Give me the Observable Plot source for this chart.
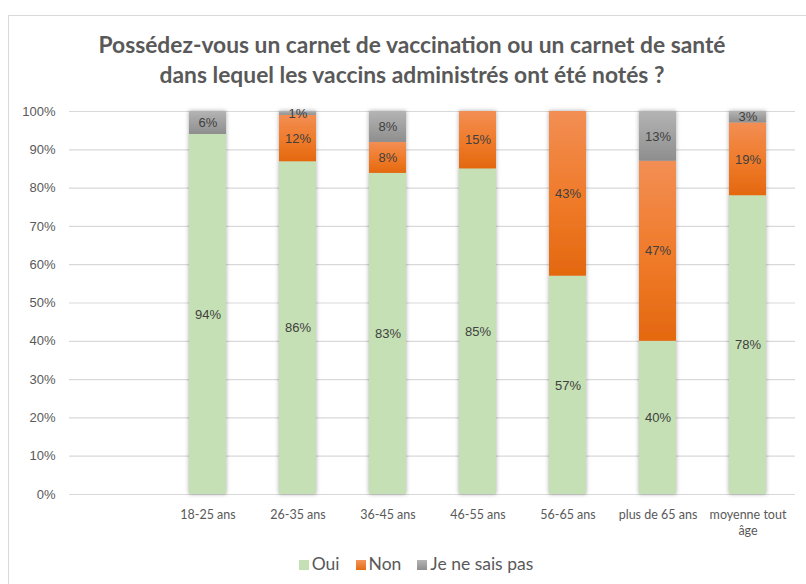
<!DOCTYPE html>
<html>
<head>
<meta charset="utf-8">
<script src="https://cdn.jsdelivr.net/npm/d3@7"></script>
<script src="https://cdn.jsdelivr.net/npm/@observablehq/plot@0.6"></script>
<style>
  html, body { margin: 0; padding: 0; background: #fff; }
  #wrap { position: relative; width: 806px; height: 584px; overflow: hidden; background: #fff; }
  #frame { position: absolute; left: 8px; top: 15px; width: 820px; height: 600px; border: 1px solid #d9d9d9; box-sizing: border-box; }
  #title { position: absolute; left: 0; top: 29px; width: 824px; text-align: center; font-family: Lato, sans-serif; font-weight: 700; font-size: 22.8px; line-height: 30px; color: #595959; }
  #chart { position: absolute; left: 0; top: 100px; }
  #legend { position: absolute; left: 0; top: 553px; width: 832px; text-align: center; font-family: Lato, sans-serif; font-size: 17.5px; color: #595959; }
  #legend span.item { display: inline-block; margin: 0 8px; }
  #legend span.sw { display: inline-block; width: 10px; height: 10px; margin-right: 3px; vertical-align: 0px; }
  g[aria-label="x-axis tick label"] text { font-family: Lato, sans-serif; }
</style>
</head>
<body>
<div id="wrap">
  <div id="frame"></div>
  <div id="title">Possédez-vous un carnet de vaccination ou un carnet de santé<br>dans lequel les vaccins administrés ont été notés ?</div>
  <div id="chart"></div>
  <div id="legend"></div>
</div>
<script>
// Categories (first slot is empty in the original chart)
const categories = ["", "18-25 ans", "26-35 ans", "36-45 ans", "46-55 ans", "56-65 ans", "plus de 65 ans", "moyenne tout âge"];
const groups = ["18-25 ans", "26-35 ans", "36-45 ans", "46-55 ans", "56-65 ans", "plus de 65 ans", "moyenne tout âge"];
const series = ["Oui", "Non", "Je ne sais pas"];
const oui = [94, 86, 83, 85, 57, 40, 78];
const non = [0, 12, 8, 15, 43, 47, 19];
const nsp = [6, 1, 8, 0, 0, 13, 3];
const yTicks = [0, 0.1, 0.2, 0.3, 0.4, 0.5, 0.6, 0.7, 0.8, 0.9, 1];
const seriesColors = ["#c5e0b4", "url(#gOrange)", "url(#gGray)"];
const legendColors = ["#c5e0b4", "linear-gradient(#f4945a, #e36c14)", "linear-gradient(#b4b4b4, #8e8e8e)"];

const values = [oui, non, nsp];
const data = [];
groups.forEach((g, i) => {
  series.forEach((s, j) => {
    if (values[j][i] > 0) data.push({group: g, series: s, value: values[j][i]});
  });
});

const plot = Plot.plot({
  width: 806,
  height: 440,
  marginTop: 11,
  marginBottom: 46,
  marginLeft: 69,
  marginRight: 11,
  style: {color: "#595959", fontFamily: "'Liberation Sans', Arial, sans-serif", fontSize: "13px", background: "transparent"},
  x: {domain: categories, paddingInner: 0.592, paddingOuter: 0.296, label: null},
  y: {domain: [0, 1], label: null},
  color: {domain: series, range: seriesColors},
  marks: [
    Plot.ruleY(yTicks, {stroke: "#d9d9d9", strokeWidth: 1.2}),
    Plot.barY(data, Plot.stackY({x: "group", y: "value", z: "series", fill: "series", offset: "normalize"})),
    Plot.text(data, Plot.stackY({x: "group", y: "value", z: "series", offset: "normalize",
      text: d => d.value + "%", fill: "#404040", fontSize: 13, fontFamily: "'Liberation Sans', Arial, sans-serif"})),
    Plot.axisY(yTicks, {tickSize: 0, tickPadding: 14, tickFormat: d => Math.round(d * 100) + "%", label: null, fontSize: 13}),
    Plot.axisX({tickSize: 0, tickPadding: 13, fontSize: 12.5, lineHeight: 1.3,
      tickFormat: d => d === "moyenne tout âge" ? "moyenne tout\nâge" : d, label: null})
  ]
});

// gradients and shadow
const ns = "http://www.w3.org/2000/svg";
const defs = document.createElementNS(ns, "defs");
defs.innerHTML = `
  <linearGradient id="gOrange" x1="0" y1="0" x2="0" y2="1">
    <stop offset="0" stop-color="#f28e54"/><stop offset="0.5" stop-color="#f07c2c"/><stop offset="1" stop-color="#e4680f"/>
  </linearGradient>
  <linearGradient id="gGray" x1="0" y1="0" x2="0" y2="1">
    <stop offset="0" stop-color="#b4b4b4"/><stop offset="1" stop-color="#8e8e8e"/>
  </linearGradient>
  <filter id="shadow" x="-30%" y="-10%" width="160%" height="120%">
    <feDropShadow dx="0" dy="0" stdDeviation="2" flood-color="#000" flood-opacity="0.35"/>
  </filter>`;
plot.insertBefore(defs, plot.firstChild);
const barG = plot.querySelector('g[aria-label="bar"]');
if (barG) barG.setAttribute("filter", "url(#shadow)");
document.getElementById("chart").appendChild(plot);

// legend
const leg = document.getElementById("legend");
series.forEach((s, j) => {
  const item = document.createElement("span");
  item.className = "item";
  const sw = document.createElement("span");
  sw.className = "sw";
  sw.style.background = legendColors[j];
  item.appendChild(sw);
  item.appendChild(document.createTextNode(s));
  leg.appendChild(item);
});
</script>
</body>
</html>
